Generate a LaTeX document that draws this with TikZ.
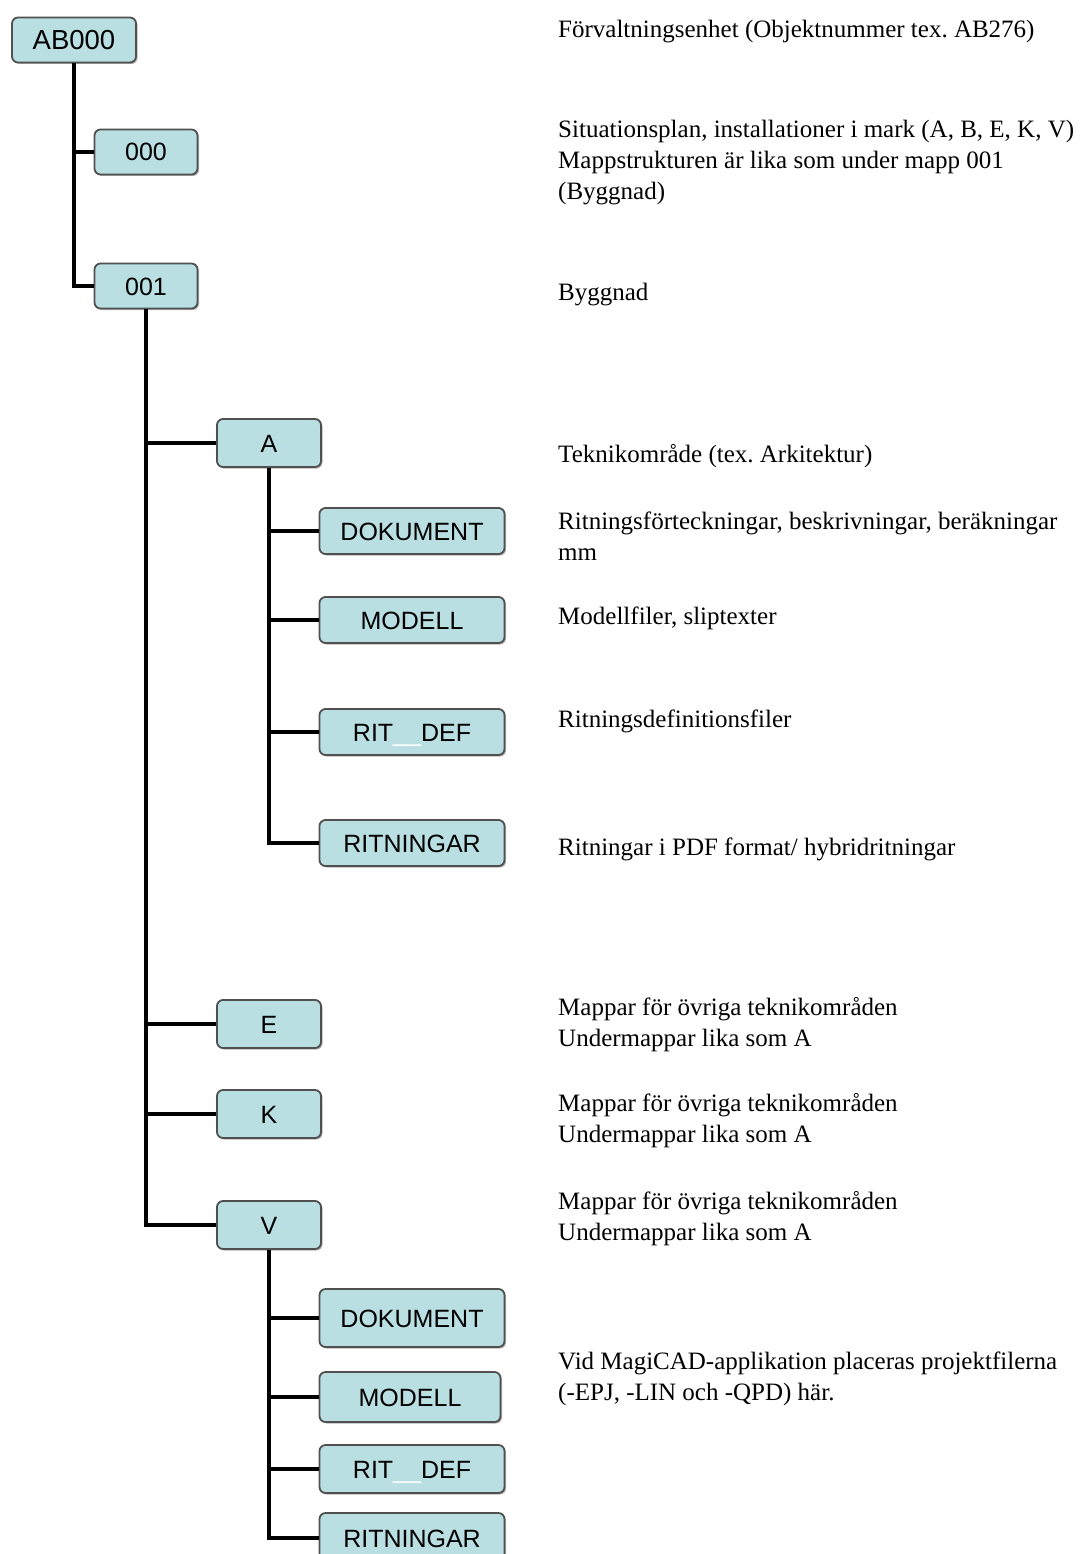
\documentclass[tikz,border=0pt]{standalone}
\usepackage{fontspec}
\setmainfont{Liberation Serif}
\newfontfamily\boxfont{Liberation Sans}
\usetikzlibrary{shadows}
\definecolor{boxfill}{HTML}{B9DFE3}
\definecolor{boxline}{HTML}{505050}
\tikzset{
  folder/.style={draw=boxline, line width=1.8pt, fill=boxfill, rounded corners=6pt,
    font=\boxfont\fontsize{25}{25}\selectfont, inner sep=0pt, text height=18pt, text depth=0pt,
    drop shadow={shadow xshift=1.5pt, shadow yshift=-1.5pt, opacity=0.3, fill=black}},
  topbox/.style={folder, minimum width=124pt, minimum height=45pt, font=\boxfont\fontsize{27.5}{27.5}\selectfont, text height=20pt},
  numbox/.style={folder, minimum width=103pt, minimum height=45pt},
  techbox/.style={folder, minimum width=104pt, minimum height=48pt},
  filebox/.style={folder, minimum width=185pt, minimum height=46pt},
  link/.style={line width=4pt, black},
  desc/.style={anchor=west, align=left, inner sep=0pt, font=\fontsize{25}{31}\selectfont}
}
\newcommand{\ritdef}{RIT\textcolor{white}{\_\_}DEF}
\begin{document}
\frenchspacing
\begin{tikzpicture}[x=1pt, y=-1pt]
\useasboundingbox (0,0) rectangle (1080,1554);
\begin{scope}
\clip (0,0) rectangle (1080,1554);
% nodes
\node[topbox] (ab) at (74,40) {AB000};
\node[numbox] (n000) at (146,152) {000};
\node[numbox] (n001) at (146,286) {001};
\node[techbox] (a) at (269,443) {A};
\node[filebox] (adok) at (412,531) {DOKUMENT};
\node[filebox] (amod) at (412,620) {MODELL};
\node[filebox] (arit) at (412,732) {\ritdef};
\node[filebox] (aritn) at (412,843) {RITNINGAR};
\node[techbox] (e) at (269,1024) {E};
\node[techbox] (k) at (269,1114) {K};
\node[techbox] (v) at (269,1225) {V};
\node[filebox, minimum height=58pt] (vdok) at (412,1318) {DOKUMENT};
\node[filebox, minimum width=181pt, minimum height=50pt] (vmod) at (410,1397) {MODELL};
\node[filebox, minimum height=48pt] (vrit) at (412,1469) {\ritdef};
\node[filebox, minimum height=50pt] (vritn) at (412,1538) {RITNINGAR};
% connectors
\draw[link] (ab.south) |- (n000.west);
\draw[link] (ab.south) |- (n001.west);
\draw[link] (n001.south) |- (a.west);
\draw[link] (n001.south) |- (e.west);
\draw[link] (n001.south) |- (k.west);
\draw[link] (n001.south) |- (v.west);
\draw[link] (a.south) |- (adok.west);
\draw[link] (a.south) |- (amod.west);
\draw[link] (a.south) |- (arit.west);
\draw[link] (a.south) |- (aritn.west);
\draw[link] (v.south) |- (vdok.west);
\draw[link] (v.south) |- (vmod.west);
\draw[link] (v.south) |- (vrit.west);
\draw[link] (v.south) |- (vritn.west);
% descriptions
\node[desc] (t1) at (558,32) {Förvaltningsenhet (Objektnummer tex. AB276)};
\node[desc] (t2) at (558,163) {Situationsplan, installationer i mark (A, B, E, K, V)\\Mappstrukturen är lika som under mapp 001\\(Byggnad)};
\node[desc] (t3) at (558,295) {Byggnad};
\node[desc] (t4) at (558,456) {Teknikområde (tex. Arkitektur)};
\node[desc] (t5) at (558,536) {Ritningsförteckningar, beskrivningar, beräkningar\\mm};
\node[desc] (t6) at (558,618) {Modellfiler, sliptexter};
\node[desc] (t7) at (558,721) {Ritningsdefinitionsfiler};
\node[desc] (t8) at (558,849) {Ritningar i PDF format/ hybridritningar};
\node[desc] (t9) at (558,1025) {Mappar för övriga teknikområden\\Undermappar lika som A};
\node[desc] (t10) at (558,1121) {Mappar för övriga teknikområden\\Undermappar lika som A};
\node[desc] (t11) at (558,1219) {Mappar för övriga teknikområden\\Undermappar lika som A};
\node[desc] (t12) at (558,1379) {Vid MagiCAD-applikation placeras projektfilerna\\(-EPJ, -LIN och -QPD) här.};
\end{scope}
\end{tikzpicture}
\end{document}
